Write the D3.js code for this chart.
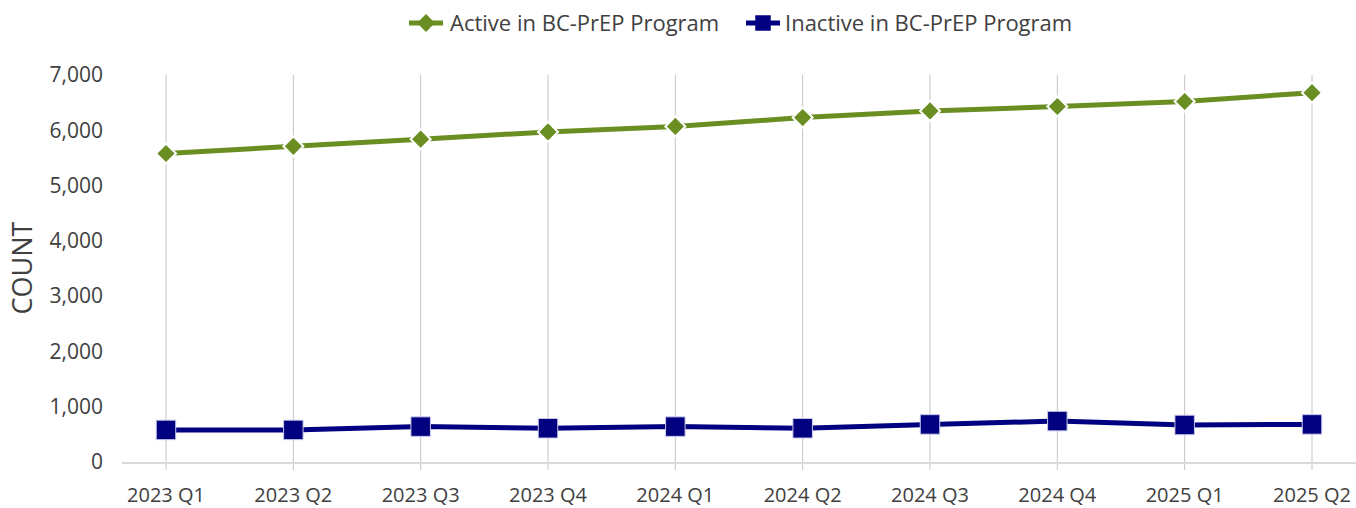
<!DOCTYPE html>
<html lang="en">
<head>
    <meta charset="UTF-8">
    <title>BC-PrEP Program</title>
    <script src="https://d3js.org/d3.v7.min.js"></script>
    <style>
        body { margin: 0; background: #fff; }
        text { font-family: "Open Sans", "Noto Sans", sans-serif; fill: #404040; }
        .grid line { stroke: #c4c4c4; stroke-width: 1; }
    </style>
</head>
<body>
    <svg width="1356" height="508"></svg>
    <script>
        const quarters = ["2023 Q1", "2023 Q2", "2023 Q3", "2023 Q4", "2024 Q1",
                          "2024 Q2", "2024 Q3", "2024 Q4", "2025 Q1", "2025 Q2"];
        const active = [5580, 5710, 5840, 5970, 6070, 6230, 6350, 6430, 6520, 6680];
        const inactive = [580, 580, 640, 610, 640, 610, 680, 740, 670, 680];
        const yTicks = [0, 1000, 2000, 3000, 4000, 5000, 6000, 7000];
        const seriesNames = ["Active in BC-PrEP Program", "Inactive in BC-PrEP Program"];

        const svg = d3.select("svg");

        const x = d3.scalePoint().domain(quarters).range([166, 1312]);
        const y = d3.scaleLinear().domain([0, 7000]).range([462, 75]);

        // vertical gridlines through each category
        svg.append("g").attr("class", "grid")
            .selectAll("line").data(quarters).enter().append("line")
            .attr("x1", d => x(d)).attr("x2", d => x(d))
            .attr("y1", y(7000)).attr("y2", y(0) + 8);

        // baseline
        svg.append("line")
            .attr("x1", 122).attr("x2", 1356)
            .attr("y1", y(0) + 1).attr("y2", y(0) + 1)
            .attr("stroke", "#d9d9d9").attr("stroke-width", 2);

        // y tick labels
        svg.append("g").selectAll("text").data(yTicks).enter().append("text")
            .attr("x", 103).attr("y", d => y(d))
            .attr("dy", "0.35em")
            .attr("text-anchor", "end")
            .attr("font-size", 21)
            .text(d => d3.format(",")(d));

        // x tick labels
        svg.append("g").selectAll("text").data(quarters).enter().append("text")
            .attr("x", d => x(d)).attr("y", 502)
            .attr("text-anchor", "middle")
            .attr("font-size", 20)
            .text(d => d);

        // axis title
        svg.append("text")
            .attr("transform", "translate(32,268) rotate(-90)")
            .attr("text-anchor", "middle")
            .attr("font-size", 27)
            .text("COUNT");

        const line = d3.line().x((d, i) => x(quarters[i])).y(d => y(d));

        // diamond = square turned 45 degrees
        const series = [
            { name: seriesNames[0], values: active, color: "#6B8E23", rot: 45, size: 200, stroke: "#ffffff", sw: 2 },
            { name: seriesNames[1], values: inactive, color: "#000080", rot: 0, size: 380, stroke: "#c8c8e8", sw: 1 }
        ];
        const square = d3.symbol().type(d3.symbolSquare);

        series.forEach(s => {
            svg.append("path")
                .attr("d", line(s.values))
                .attr("fill", "none")
                .attr("stroke", s.color)
                .attr("stroke-width", 5);

            svg.append("g").selectAll("path").data(s.values).enter().append("path")
                .attr("transform", (d, i) => `translate(${x(quarters[i])},${y(d)}) rotate(${s.rot})`)
                .attr("d", square.size(s.size)())
                .attr("fill", s.color)
                .attr("stroke", s.stroke)
                .attr("stroke-width", s.sw);
        });

        // legend
        const legend = [
            { s: series[0], x: 426, tx: 450, size: 160 },
            { s: series[1], x: 763, tx: 785, size: 240 }
        ];
        legend.forEach(l => {
            svg.append("line")
                .attr("x1", l.x - 17).attr("x2", l.x + 17)
                .attr("y1", 23).attr("y2", 23)
                .attr("stroke", l.s.color).attr("stroke-width", 5);
            svg.append("path")
                .attr("transform", `translate(${l.x},23) rotate(${l.s.rot})`)
                .attr("d", square.size(l.size)())
                .attr("fill", l.s.color);
            svg.append("text")
                .attr("x", l.tx).attr("y", 23)
                .attr("dy", "0.35em")
                .attr("font-size", 22)
                .text(l.s.name);
        });
    </script>
</body>
</html>
